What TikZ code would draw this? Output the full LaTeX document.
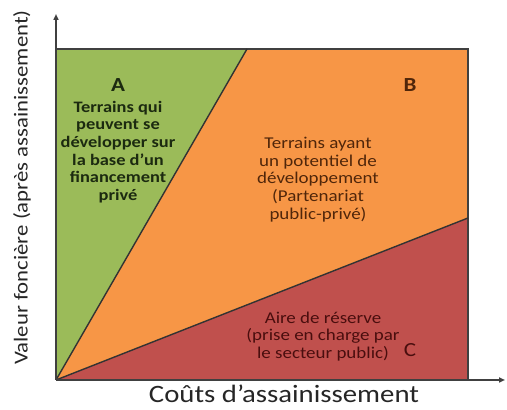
\documentclass[tikz,border=0pt]{standalone}
\usepackage{fontspec}
\setmainfont{Carlito}[FakeStretch=1.15]
\usetikzlibrary{arrows.meta}

\definecolor{zoneA}{HTML}{9BBB59}
\definecolor{zoneB}{HTML}{F79646}
\definecolor{zoneC}{HTML}{C0504D}
\definecolor{textA}{HTML}{1C2A10}
\definecolor{textB}{HTML}{50260A}
\definecolor{textC}{HTML}{4A0E0E}
\definecolor{edge}{HTML}{404040}

\tikzset{
    frame/.style={edge, line width=2pt},
    divider/.style={black!80, line width=1.4pt},
    axis/.style={edge, line width=2pt, -{Triangle[length=6pt,width=5pt]}},
    zonetext/.style={align=center, font=\fontsize{16.5}{17.7}\selectfont},
    boldtext/.style={align=center, font=\fontsize{16}{17.7}\selectfont\bfseries},
    zoneletter/.style={font=\fontsize{20}{20}\selectfont},
    boldletter/.style={font=\fontsize{20}{20}\selectfont\bfseries},
}

\begin{document}
\begin{tikzpicture}[x=1pt,y=1pt]

    % Bounds of the chart
    \def\xmax{412}
    \def\ymax{331}
    \def\xaxis{449}
    \def\yaxis{366}
    \def\xab{191}  % where the A/B line meets the top
    \def\ybc{162}  % where the B/C line meets the right side

    \useasboundingbox (-56,-30) rectangle (451,380);

    % Corners
    \coordinate (O) at (0,0);
    \coordinate (topleft) at (0,\ymax);
    \coordinate (topright) at (\xmax,\ymax);
    \coordinate (botright) at (\xmax,0);
    \coordinate (ab) at (\xab,\ymax);
    \coordinate (bc) at (\xmax,\ybc);

    % Zones
    \fill[zoneA] (O) -- (topleft) -- (ab) -- cycle;
    \fill[zoneB] (O) -- (ab) -- (topright) -- (bc) -- cycle;
    \fill[zoneC] (O) -- (bc) -- (botright) -- cycle;

    % Borders
    \draw[frame] (topleft) -- (topright) -- (botright);
    \draw[divider] (O) -- (ab);
    \draw[divider] (O) -- (bc);

    % Axes
    \coordinate (ytip) at (0,\yaxis);
    \coordinate (xtip) at (\xaxis,0);
    \draw[axis] (O) -- (ytip);
    \draw[axis] (O) -- (xtip);

    % Labels for axes
    \node[font=\fontsize{25}{25}\selectfont, text=black!85, anchor=base, inner sep=0pt] (xlabel) at (228,-22.5) {Coûts d’assainissement};
    \node[rotate=90, font=\fontsize{19.8}{19.8}\selectfont, text=black!85] (ylabel) at (-34,192.5) {Valeur foncière (après assainissement)};

    % Zone A
    \node[boldletter, text=textA] (letterA) at (62,295) {A};
    \node[boldtext, text=textA] (textA) at (62,228)
        {Terrains qui\\peuvent se\\développer sur\\la base d’un\\financement\\privé};

    % Zone B
    \node[boldletter, text=textB] (letterB) at (354,295) {B};
    \node[zonetext, text=textB] (textB) at (262,200.5)
        {Terrains ayant\\un potentiel de\\développement\\(Partenariat\\public-privé)};

    % Zone C
    \node[zoneletter, text=textC] (letterC) at (354,30) {C};
    \node[zonetext, text=textC] (textC) at (267,43.5)
        {Aire de réserve\\(prise en charge par\\le secteur public)};

\end{tikzpicture}
\end{document}
